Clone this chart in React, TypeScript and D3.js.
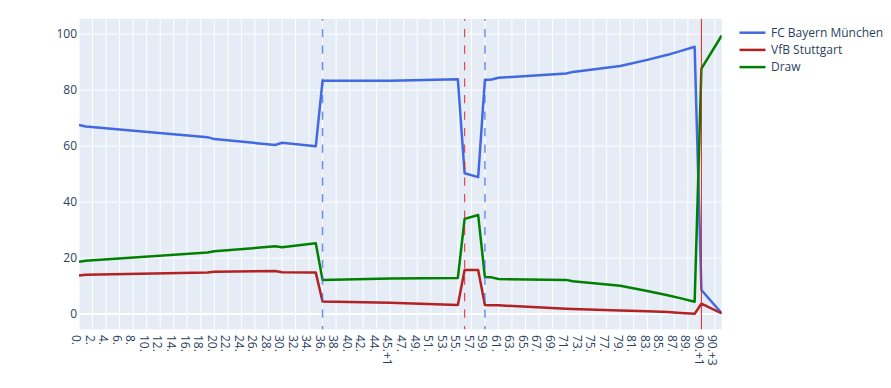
import React from "react";
import * as d3 from "d3";

const categories: string[] = [
  "0.", "1.", "2.", "3.", "4.", "5.", "6.", "7.", "8.", "9.",
  "10.", "11.", "12.", "13.", "14.", "15.", "16.", "17.", "18.", "19.",
  "20.", "21.", "22.", "23.", "24.", "25.", "26.", "27.", "28.", "29.",
  "30.", "31.", "32.", "33.", "34.", "35.", "36.", "37.", "38.", "39.",
  "40.", "41.", "42.", "43.", "44.", "45.", "45.+1", "46.", "47.", "48.",
  "49.", "50.", "51.", "52.", "53.", "54.", "55.", "56.", "57.", "58.",
  "59.", "60.", "61.", "62.", "63.", "64.", "65.", "66.", "67.", "68.",
  "69.", "70.", "71.", "72.", "73.", "74.", "75.", "76.", "77.", "78.",
  "79.", "80.", "81.", "82.", "83.", "84.", "85.", "86.", "87.", "88.",
  "89.", "90.", "90.+1", "90.+2", "90.+3", "90.+4",
];

const pointMinutes: string[] = [
  "0.", "1.", "19.", "20.", "29.", "30.", "35.", "36.", "45.+1", "55.",
  "56.", "58.", "59.", "60.", "61.", "71.", "72.", "79.", "83.", "86.",
  "88.", "90.", "90.+1", "90.+4",
];

const bayern: number[] = [
  67.5, 67.0, 63.2, 62.5, 60.4, 61.2, 59.9, 83.3, 83.3, 83.9,
  50.3, 48.9, 83.6, 83.8, 84.4, 85.9, 86.5, 88.6, 90.8, 92.6,
  94.0, 95.5, 8.6, 0.3,
];
const stuttgart: number[] = [
  13.8, 14.0, 14.8, 15.1, 15.4, 14.9, 14.8, 4.5, 4.0, 3.2,
  15.7, 15.7, 3.2, 3.1, 3.1, 1.9, 1.8, 1.3, 1.0, 0.7,
  0.4, 0.1, 3.7, 0.2,
];
const draw: number[] = [
  18.7, 19.0, 22.0, 22.4, 24.2, 23.9, 25.3, 12.2, 12.7, 12.9,
  34.0, 35.4, 13.2, 13.1, 12.5, 12.2, 11.7, 10.1, 8.2, 6.7,
  5.6, 4.4, 87.7, 99.5,
];

const seriesNames: string[] = ["FC Bayern München", "VfB Stuttgart", "Draw"];
const seriesValues: number[][] = [bayern, stuttgart, draw];

const eventMinutes: string[] = ["36.", "56.", "59.", "90.+1"];
const eventKinds: string[] = ["bayernGoal", "stuttgartGoal", "bayernGoal", "stuttgartRed"];

const yTicks: number[] = [0, 20, 40, 60, 80, 100];

const W = 891;
const H = 388;
const L = 79;
const R = 721.7;
const T = 19;
const B = 329.3;
const TEXT = "#2a3f5f";
const FONT = '"Open Sans", verdana, arial, sans-serif';
const colors = ["#4169E1", "#B22222", "#008000"];
const eventStyle: Record<string, { color: string; dash: string; opacity: number; width: number }> = {
  bayernGoal: { color: "#4169E1", dash: "8.3,8.2", opacity: 0.75, width: 1.5 },
  stuttgartGoal: { color: "#e02020", dash: "8.3,8.2", opacity: 0.8, width: 1.2 },
  stuttgartRed: { color: "#e02020", dash: "", opacity: 1, width: 1 },
};

export default function App() {
  const x = d3.scalePoint<string>().domain(categories).range([L, R]).padding(0);
  const y = d3.scaleLinear().domain([-5.45, 105.4]).range([B, T]);
  const line = d3
    .line<[string, number]>()
    .x((d) => x(d[0]) as number)
    .y((d) => y(d[1]));

  const tickCats = categories.filter((_, i) => i % 2 === 0);

  return (
    <svg
      width={W}
      height={H}
      style={{ position: "absolute", left: 0, top: 0, background: "#fff" }}
      fontFamily={FONT}
    >
      <defs>
        <clipPath id="plotclip">
          <rect x={L} y={T} width={R - L} height={B - T} />
        </clipPath>
      </defs>
      <rect x={L} y={T} width={R - L} height={B - T} fill="#E5ECF6" />
      {tickCats.map((c) => (
        <line key={"gx" + c} x1={x(c)} x2={x(c)} y1={T} y2={B} stroke="#fff" strokeWidth={1} />
      ))}
      {yTicks.map((t) => (
        <line
          key={"gy" + t}
          x1={L}
          x2={R}
          y1={y(t)}
          y2={y(t)}
          stroke="#fff"
          strokeWidth={t === 0 ? 2 : 1}
        />
      ))}
      <g clipPath="url(#plotclip)">
        {seriesValues.map((vals, si) => (
          <path
            key={"s" + si}
            d={line(pointMinutes.map((m, i) => [m, vals[i]] as [string, number])) || ""}
            fill="none"
            stroke={colors[si]}
            strokeWidth={2.5}
            strokeLinejoin="round"
          />
        ))}
      </g>
      {eventMinutes.map((m, i) => {
        const st = eventStyle[eventKinds[i]];
        const xx = x(m) as number;
        return (
          <line
            key={"ev" + i}
            x1={xx}
            x2={xx}
            y1={T}
            y2={B}
            stroke={st.color}
            strokeOpacity={st.opacity}
            strokeWidth={st.width}
            strokeDasharray={st.dash || undefined}
            strokeDashoffset={st.dash ? 6.5 : undefined}
          />
        );
      })}
      {yTicks.map((t) => (
        <text
          key={"yl" + t}
          x={77}
          y={y(t)}
          dy="0.35em"
          textAnchor="end"
          fontSize={12}
          fill={TEXT}
        >
          {t}
        </text>
      ))}
      {tickCats.map((c) => (
        <text
          key={"xl" + c}
          transform={`translate(${(x(c) as number) - 2.5},335) rotate(90)`}
          dy="0.35em"
          textAnchor="start"
          fontSize={12}
          fill={TEXT}
        >
          {c}
        </text>
      ))}
      {seriesNames.map((n, i) => {
        const ly = 32.7 + i * 17.2;
        return (
          <g key={"lg" + i}>
            <line x1={739.5} x2={765.5} y1={ly} y2={ly} stroke={colors[i]} strokeWidth={2.5} />
            <text x={771} y={ly} dy="0.35em" fontSize={12} fill={TEXT}>
              {n}
            </text>
          </g>
        );
      })}
    </svg>
  );
}
